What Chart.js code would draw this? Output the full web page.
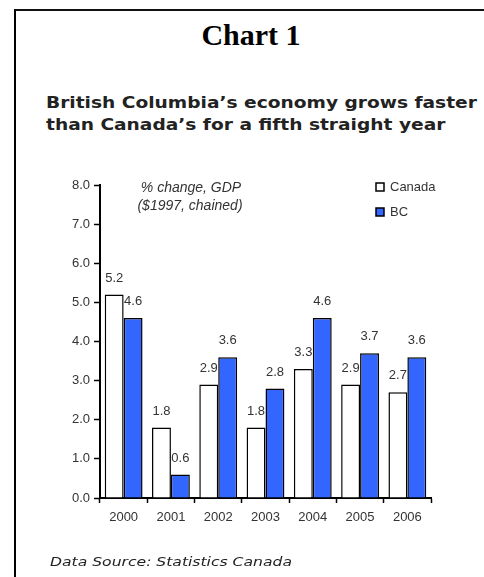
<!DOCTYPE html>
<html>
<head>
<meta charset="utf-8">
<script src="https://cdn.jsdelivr.net/npm/chart.js@4.4.0/dist/chart.umd.min.js"></script>
<style>
  body { margin: 0; background: #fff; width: 484px; height: 577px; overflow: hidden; position: relative; }
  #frame { position: absolute; left: 14px; top: 9px; width: 520px; height: 620px; border-left: 2px solid #000; border-top: 2px solid #111; }
  #title { position: absolute; left: 0; width: 502px; top: 18px; text-align: center; font: bold 30px "Liberation Serif", serif; color: #000; }
  #sub { position: absolute; left: 46px; top: 92px; font: bold 15px "DejaVu Sans", sans-serif; color: #222; line-height: 22px; white-space: nowrap; transform: scaleX(1.24); transform-origin: 0 0; }
  #src { position: absolute; left: 50px; top: 554px; font: italic 13px "DejaVu Sans", sans-serif; color: #222; white-space: nowrap; transform: scaleX(1.2); transform-origin: 0 0; }
  canvas { position: absolute; left: 0; top: 0; }
</style>
</head>
<body>
<div id="frame"></div>
<div id="title">Chart 1</div>
<div id="sub">British Columbia’s economy grows faster<br>than Canada’s for a fifth straight year</div>
<canvas id="gdpChart" width="484" height="577"></canvas>
<div id="src">Data Source: Statistics Canada</div>
<script>
/* ================= DATA ================= */
const years = ["2000", "2001", "2002", "2003", "2004", "2005", "2006"];
const canada = [5.2, 1.8, 2.9, 1.8, 3.3, 2.9, 2.7];
const bc = [4.6, 0.6, 3.6, 2.8, 4.6, 3.7, 3.6];
const yTicks = [0, 1, 2, 3, 4, 5, 6, 7, 8];
const note = ["% change, GDP", "($1997, chained)"];

const fam = '"Liberation Sans", Arial, sans-serif';

/* value labels above bars, legend and the note */
const extras = {
  id: "extras",
  afterDatasetsDraw(chart) {
    const ctx = chart.ctx;
    ctx.save();
    ctx.font = "13px " + fam;
    ctx.fillStyle = "#333";
    ctx.textAlign = "center";
    ctx.textBaseline = "middle";
    chart.data.datasets.forEach((ds, i) => {
      chart.getDatasetMeta(i).data.forEach((bar, j) => {
        ctx.fillText(ds.data[j].toFixed(1), bar.x, bar.y - 16.5);
      });
    });

    // note
    ctx.font = "italic 14px " + fam;
    ctx.fillText(note[0], 191, 188);
    ctx.fillText(note[1], 190, 206);

    // legend
    ctx.font = "13px " + fam;
    ctx.textAlign = "left";
    chart.data.datasets.forEach((ds, i) => {
      const y = 187 + i * 25;
      ctx.fillStyle = ds.backgroundColor;
      ctx.fillRect(376, y - 4, 8, 8);
      ctx.strokeStyle = "#000";
      ctx.lineWidth = 1.5;
      ctx.strokeRect(376, y - 4, 8, 8);
      ctx.fillStyle = "#333";
      ctx.fillText(ds.label, 390, y);
    });
    ctx.restore();
  }
};

new Chart(document.getElementById("gdpChart"), {
  type: "bar",
  data: {
    labels: years,
    datasets: [
      { label: "Canada", data: canada, backgroundColor: "#ffffff", borderColor: "#000", borderWidth: 1.5 },
      { label: "BC", data: bc, backgroundColor: "#3366ff", borderColor: "#000", borderWidth: 1.5 }
    ]
  },
  options: {
    responsive: false,
    animation: false,
    events: [],
    categoryPercentage: 0.8,
    barPercentage: 1.0,
    layout: { padding: { left: 0, top: 185, right: 53, bottom: 0 } },
    plugins: {
      legend: { display: false },
      tooltip: { enabled: false }
    },
    scales: {
      x: {
        grid: { offset: true, drawOnChartArea: false, tickLength: 5, tickColor: "#000", tickWidth: 1.5 },
        border: { color: "#000", width: 2 },
        ticks: { font: { family: fam, size: 13 }, color: "#333", padding: 7 },
        afterFit(scale) { scale.height = 79; }
      },
      y: {
        min: 0,
        max: 8,
        afterBuildTicks(scale) { scale.ticks = yTicks.map(v => ({ value: v })); },
        grid: { drawOnChartArea: false, tickLength: 6, tickColor: "#000", tickWidth: 1.5 },
        border: { color: "#000", width: 2 },
        ticks: {
          font: { family: fam, size: 13 },
          color: "#333",
          padding: 4,
          callback: v => v.toFixed(1)
        },
        afterFit(scale) { scale.width = 100; }
      }
    }
  },
  plugins: [extras]
});
</script>
</body>
</html>
